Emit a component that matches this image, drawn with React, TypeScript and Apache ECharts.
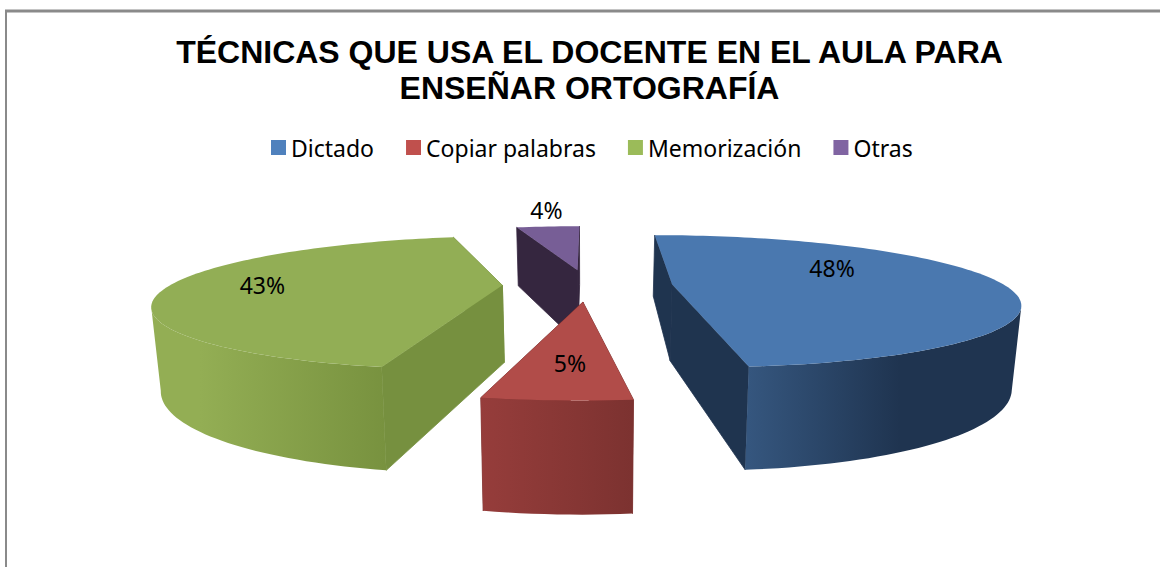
import React, { useEffect, useRef } from "react";
import * as echarts from "echarts";

const titleLines = ["TÉCNICAS QUE USA EL DOCENTE EN EL AULA PARA", "ENSEÑAR ORTOGRAFÍA"];
const categories = ["Dictado", "Copiar palabras", "Memorización", "Otras"];
const shares = [48.3, 5.0, 42.7, 4.0];
const topColors = ["#4A78AF", "#B14C49", "#92AE55", "#775E96"];
const legendColors = ["#4F81BD", "#C0504D", "#9BBB59", "#8064A2"];
const edgeColors = ["#1F344F", "#7C3230", "#76903F", "#35263F"];
const wallStops = [
  ["#35567E", "#1F3450"],
  ["#963D3B", "#7C3230"],
  ["#93AE54", "#78923F"],
  ["#35263F", "#35263F"],
];
const wallRanges = [[749, 900], [480, 634], [200, 385], [515, 580]];
const labelOffsets = [[160, -16], [-13, 61], [-240, 0], [-31, -60]];
const paintOrder = [3, 4, 2, 1];

// Perspective model of the pie plane
const CX = 587.5, CY = 285, TILT = 0.187, PERSP = 0.00078;
const RADIUS = 332, EXPLODE = 85, DEPTH = 77, BOTTOM_SHRINK = 0.978;

function project(X: number, Y: number, bottom: boolean): number[] {
  const w = 1 / (1 - PERSP * Y);
  let sx = CX + X * w;
  let sy = CY + TILT * Y * w;
  if (bottom) {
    sx = CX + (sx - CX) * BOTTOM_SHRINK;
    sy += DEPTH * w;
  }
  return [sx, sy];
}

function sliceItem(index: number, api: any) {
  const value = api.value(0);
  const total = shares.reduce((a, b) => a + b, 0);
  const before = shares.slice(0, index).reduce((a, b) => a + b, 0);
  const a0 = (before / total) * Math.PI * 2;
  const a1 = ((before + value) / total) * Math.PI * 2;
  const mid = (a0 + a1) / 2;
  const ox = EXPLODE * Math.sin(mid);
  const oy = -EXPLODE * Math.cos(mid);
  const steps = Math.max(4, Math.ceil(((a1 - a0) / Math.PI) * 120));
  const arcTop: number[][] = [];
  const arcBottom: number[][] = [];
  for (let i = 0; i <= steps; i++) {
    const t = a0 + ((a1 - a0) * i) / steps;
    const X = ox + RADIUS * Math.sin(t);
    const Y = oy - RADIUS * Math.cos(t);
    arcTop.push(project(X, Y, false));
    arcBottom.push(project(X, Y, true));
  }
  const apexTop = project(ox, oy, false);
  const apexBottom = project(ox, oy, true);
  const edge = edgeColors[index];
  const poly = (points: number[][], fill: any, stroke: any = null) => ({
    type: "polygon",
    shape: { points },
    style: { fill, stroke, lineWidth: stroke ? 0.8 : 0 },
  });
  const [gx0, gx1] = wallRanges[index];
  const gradient = new echarts.graphic.LinearGradient(
    gx0, 0, gx1, 0,
    [
      { offset: 0, color: wallStops[index][0] },
      { offset: 1, color: wallStops[index][1] },
    ],
    true
  );
  // front-facing part of the rim: points where the arc runs leftwards on screen
  const visibleIdx: number[] = [];
  for (let i = 0; i <= steps; i++) {
    const leftwards =
      (i < steps && arcTop[i + 1][0] < arcTop[i][0]) || (i > 0 && arcTop[i][0] < arcTop[i - 1][0]);
    if (leftwards) visibleIdx.push(i);
  }
  const visTop = visibleIdx.map((i) => arcTop[i]);
  const visBottom = visibleIdx.map((i) => arcBottom[i]);
  const lastT = arcTop.length - 1;
  const labelAt = labelOffsets[index];
  const children: any[] = [
    poly([apexTop, arcTop[0], arcBottom[0], apexBottom], edge, edge),
    poly([apexTop, arcTop[lastT], arcBottom[lastT], apexBottom], edge, edge),
  ];
  if (visTop.length > 1) children.push(poly([...visTop, ...visBottom.reverse()], gradient));
  children.push(poly([apexTop, ...arcTop], topColors[index]));
  children.push({
    type: "text",
    style: {
      x: apexTop[0] + labelAt[0],
      y: apexTop[1] + labelAt[1],
      text: Math.round(value) + "%",
      fill: "#000000",
      fontSize: 23,
      fontFamily: "Noto Sans",
      align: "center",
      verticalAlign: "middle",
    },
  });
  return { type: "group", children };
}

export default function App() {
  const ref = useRef<HTMLDivElement>(null);
  useEffect(() => {
    const chart = echarts.init(ref.current!, undefined, { renderer: "svg" });
    chart.setOption({
      animation: false,
      backgroundColor: "#ffffff",
      title: {
        text: titleLines.join("\n"),
        left: 584.5,
        top: 29,
        textAlign: "center",
        textStyle: {
          fontFamily: "Liberation Sans",
          fontWeight: "bold",
          fontSize: 32,
          lineHeight: 36,
          color: "#000000",
        },
      },
      legend: {
        data: categories,
        left: 266,
        top: 131,
        icon: "rect",
        itemWidth: 15,
        itemHeight: 15,
        itemGap: 32,
        textStyle: { fontFamily: "Noto Sans", fontSize: 23, color: "#000000" },
      },
      graphic: [
        { type: "line", shape: { x1: 5, y1: 11, x2: 1160, y2: 11 }, style: { stroke: "#8A8A8A", lineWidth: 3 } },
        { type: "line", shape: { x1: 6, y1: 10, x2: 6, y2: 567 }, style: { stroke: "#8A8A8A", lineWidth: 2 } },
      ],
      series: categories.map((name, index) => ({
        type: "custom",
        name,
        coordinateSystem: "none",
        z: paintOrder[index],
        silent: true,
        itemStyle: { color: legendColors[index] },
        data: [[shares[index]]],
        renderItem: (_p: any, api: any) => sliceItem(index, api),
      })),
    });
    return () => chart.dispose();
  }, []);
  return <div ref={ref} style={{ position: "fixed", left: 0, top: 0, width: 1160, height: 567 }} />;
}
